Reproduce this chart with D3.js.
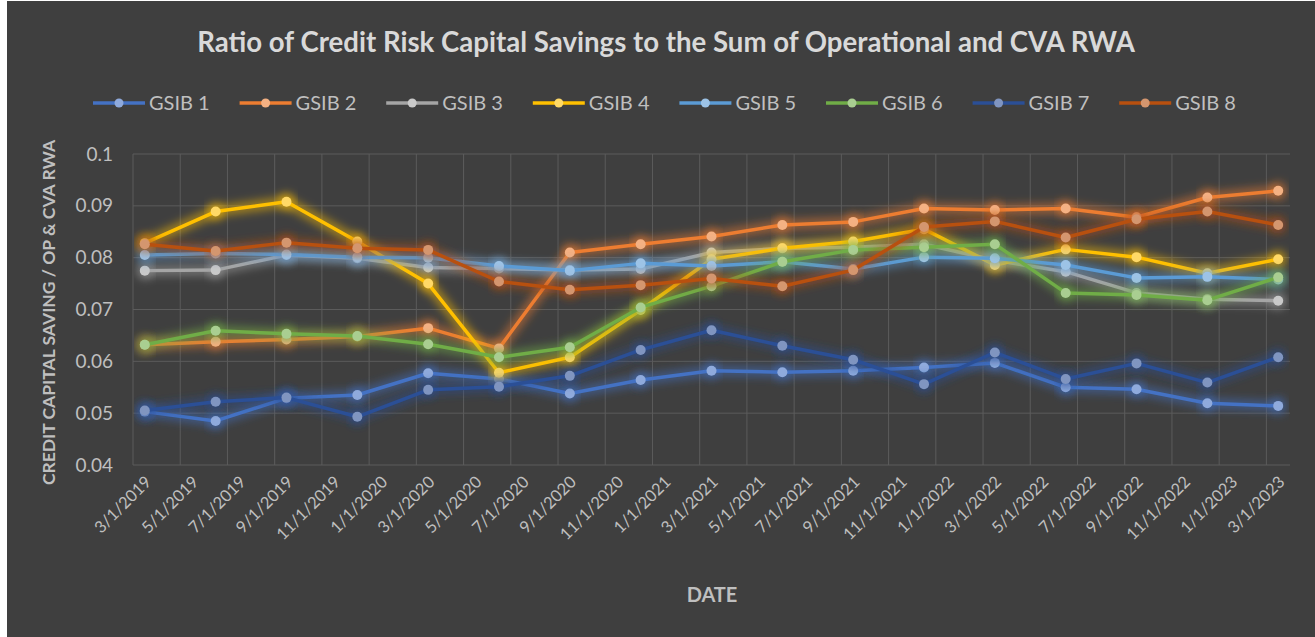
<!DOCTYPE html>
<html>
<head>
<meta charset="utf-8">
<script src="https://cdn.jsdelivr.net/npm/d3@7"></script>
<style>
  html, body { margin: 0; padding: 0; background: #ffffff; }
  svg { display: block; }
</style>
</head>
<body>
<svg id="chart" width="1315" height="637"></svg>
<script>
// ---------- DATA ----------
const dates = ["3/1/2019","6/1/2019","9/1/2019","12/1/2019","3/1/2020","6/1/2020","9/1/2020","12/1/2020",
  "3/1/2021","6/1/2021","9/1/2021","12/1/2021","3/1/2022","6/1/2022","9/1/2022","12/1/2022","3/1/2023"];
const tickLabels = ["3/1/2019","5/1/2019","7/1/2019","9/1/2019","11/1/2019","1/1/2020","3/1/2020","5/1/2020",
  "7/1/2020","9/1/2020","11/1/2020","1/1/2021","3/1/2021","5/1/2021","7/1/2021","9/1/2021","11/1/2021",
  "1/1/2022","3/1/2022","5/1/2022","7/1/2022","9/1/2022","11/1/2022","1/1/2023","3/1/2023"];
const yTicks = [0.04, 0.05, 0.06, 0.07, 0.08, 0.09, 0.1];
const seriesNames = ["GSIB 1","GSIB 2","GSIB 3","GSIB 4","GSIB 5","GSIB 6","GSIB 7","GSIB 8"];
const gsib1 = [0.0503,0.0485,0.0529,0.0535,0.0577,0.0566,0.0538,0.0564,0.0582,0.0579,0.0582,0.0588,0.0597,0.0550,0.0546,0.0519,0.0514];
const gsib2 = [0.0632,0.0638,0.0642,0.0648,0.0664,0.0625,0.0810,0.0826,0.0841,0.0863,0.0869,0.0895,0.0892,0.0895,0.0878,0.0916,0.0929];
const gsib3 = [0.0775,0.0776,0.0805,0.0799,0.0781,0.0779,0.0776,0.0778,0.0810,0.0818,0.0820,0.0826,0.0795,0.0773,0.0732,0.0720,0.0717];
const gsib4 = [0.0828,0.0889,0.0908,0.0831,0.0750,0.0578,0.0608,0.0699,0.0797,0.0818,0.0831,0.0855,0.0786,0.0816,0.0801,0.0770,0.0797];
const gsib5 = [0.0805,0.0808,0.0806,0.0801,0.0800,0.0784,0.0775,0.0789,0.0784,0.0792,0.0778,0.0801,0.0799,0.0786,0.0761,0.0763,0.0758];
const gsib6 = [0.0632,0.0659,0.0653,0.0649,0.0633,0.0608,0.0627,0.0704,0.0745,0.0792,0.0815,0.0820,0.0826,0.0732,0.0728,0.0718,0.0762];
const gsib7 = [0.0505,0.0522,0.0530,0.0493,0.0545,0.0551,0.0572,0.0622,0.0660,0.0630,0.0603,0.0556,0.0617,0.0566,0.0596,0.0559,0.0608];
const gsib8 = [0.0826,0.0813,0.0829,0.0818,0.0815,0.0754,0.0738,0.0747,0.0760,0.0745,0.0776,0.0859,0.0870,0.0839,0.0874,0.0889,0.0863];
const seriesValues = [gsib1, gsib2, gsib3, gsib4, gsib5, gsib6, gsib7, gsib8];
const colors = ["#4472C4","#ED7D31","#A5A5A5","#FFC000","#5B9BD5","#70AD47","#2B4F96","#B8500F"];

// ---------- LAYOUT ----------
const W = 1315, H = 637;
const plot = { left: 133, right: 1290, top: 154, bottom: 465 };
const svg = d3.select("#chart");
const FONT = "Lato, 'Open Sans', sans-serif";

// month index helper
const parse = d3.timeParse("%m/%d/%Y");
const base = parse("3/1/2019");
const monthIdx = s => { const d = parse(s); return (d.getFullYear() - base.getFullYear()) * 12 + d.getMonth() - base.getMonth(); };

const x = d3.scaleLinear().domain([-0.5, 48.5]).range([plot.left, plot.right]);
const y = d3.scaleLinear().domain([0.04, 0.1]).range([plot.bottom, plot.top]);

// background
svg.append("rect").attr("x", 0).attr("y", 0).attr("width", W).attr("height", H).attr("fill", "#ffffff");
svg.append("rect").attr("x", 7).attr("y", 1).attr("width", W - 7).attr("height", H - 1).attr("fill", "#3f3f3f");

// defs: glow filter
const defs = svg.append("defs");
const f = defs.append("filter").attr("id", "glow").attr("x", "-10%").attr("y", "-50%").attr("width", "120%").attr("height", "200%");
f.append("feGaussianBlur").attr("stdDeviation", 4);

// gridlines
svg.append("g").selectAll("line").data(yTicks).join("line")
  .attr("x1", plot.left).attr("x2", plot.right)
  .attr("y1", d => y(d)).attr("y2", d => y(d))
  .attr("stroke", "#5c5c5c").attr("stroke-width", 1);
const vGrid = d3.range(0, 25).map(k => -0.5 + 2 * k);
svg.append("g").selectAll("line").data(vGrid).join("line")
  .attr("x1", d => x(d)).attr("x2", d => x(d))
  .attr("y1", plot.top).attr("y2", plot.bottom)
  .attr("stroke", "#5c5c5c").attr("stroke-width", 1);

// y axis
const yAxis = d3.axisLeft(y).tickValues(yTicks).tickFormat(d => d3.format("")(+d.toFixed(2))).tickSize(0).tickPadding(20);
const yg = svg.append("g").attr("transform", `translate(${plot.left},0)`).call(yAxis);
yg.select(".domain").remove();
yg.selectAll("text").attr("fill", "#bfbfbf").style("font-family", FONT).style("font-size", "19px");

// x axis
const xTickIdx = tickLabels.map(monthIdx);
const xAxis = d3.axisBottom(x).tickValues(xTickIdx).tickFormat((d, i) => tickLabels[i]).tickSize(0);
const xg = svg.append("g").attr("transform", `translate(0,${plot.bottom})`).call(xAxis);
xg.select(".domain").remove();
xg.selectAll("text")
  .attr("fill", "#bfbfbf").style("font-family", FONT).style("font-size", "16.5px")
  .attr("text-anchor", "end").attr("dy", null).attr("y", 0)
  .attr("transform", "translate(7,18) rotate(-45)");

// series
const line = d3.line().x((d, i) => x(monthIdx(dates[i]))).y(d => y(d));
const sg = svg.append("g");
seriesValues.forEach((vals, si) => {
  const g = sg.append("g");
  const c = colors[si];
  g.append("path").attr("d", line(vals)).attr("fill", "none")
    .attr("stroke", c).attr("stroke-width", 11).attr("stroke-opacity", 0.5)
    .attr("stroke-linejoin", "round").attr("filter", "url(#glow)");
  g.selectAll("circle.glow").data(vals).join("circle").attr("class", "glow")
    .attr("cx", (d, i) => x(monthIdx(dates[i]))).attr("cy", d => y(d)).attr("r", 9)
    .attr("fill", c).attr("fill-opacity", 0.5).attr("filter", "url(#glow)");
  g.append("path").attr("d", line(vals)).attr("fill", "none")
    .attr("stroke", c).attr("stroke-width", 3.5).attr("stroke-linejoin", "round");
  const mc = d3.interpolateRgb(c, "#ffffff")(0.4);
  g.selectAll("circle.m").data(vals).join("circle").attr("class", "m")
    .attr("cx", (d, i) => x(monthIdx(dates[i]))).attr("cy", d => y(d)).attr("r", 5)
    .attr("fill", mc);
});

// title
const title = svg.append("text").attr("x", 666).attr("y", 52).attr("text-anchor", "middle")
  .attr("fill", "#d9d9d9").style("font-family", FONT).style("font-weight", "bold").style("font-size", "24px")
  .text("Ratio of Credit Risk Capital Savings to the Sum of Operational and CVA RWA");
{
  const w = title.node().getComputedTextLength();
  title.style("font-size", (24 * 938 / w).toFixed(2) + "px");
}

// legend
const lg = svg.append("g");
seriesNames.forEach((name, i) => {
  const x0 = 93 + i * 146.6, yy = 103;
  const c = colors[i];
  lg.append("line").attr("x1", x0).attr("x2", x0 + 52).attr("y1", yy).attr("y2", yy)
    .attr("stroke", c).attr("stroke-width", 3.5);
  lg.append("circle").attr("cx", x0 + 26).attr("cy", yy).attr("r", 4.5)
    .attr("fill", d3.interpolateRgb(c, "#ffffff")(0.4));
  lg.append("text").attr("x", x0 + 56).attr("y", yy + 7).attr("fill", "#bfbfbf")
    .style("font-family", FONT).style("font-size", "20px").text(name);
});

// axis titles
svg.append("text").attr("transform", `translate(55,${(plot.top + plot.bottom) / 2 + 3}) rotate(-90)`)
  .attr("text-anchor", "middle").attr("fill", "#bfbfbf")
  .style("font-family", FONT).style("font-weight", "bold").style("font-size", "17.5px")
  .text("CREDIT CAPITAL SAVING / OP & CVA RWA");
svg.append("text").attr("x", 712).attr("y", 602).attr("text-anchor", "middle").attr("fill", "#bfbfbf")
  .style("font-family", FONT).style("font-weight", "bold").style("font-size", "20px")
  .text("DATE");
</script>
</body>
</html>
